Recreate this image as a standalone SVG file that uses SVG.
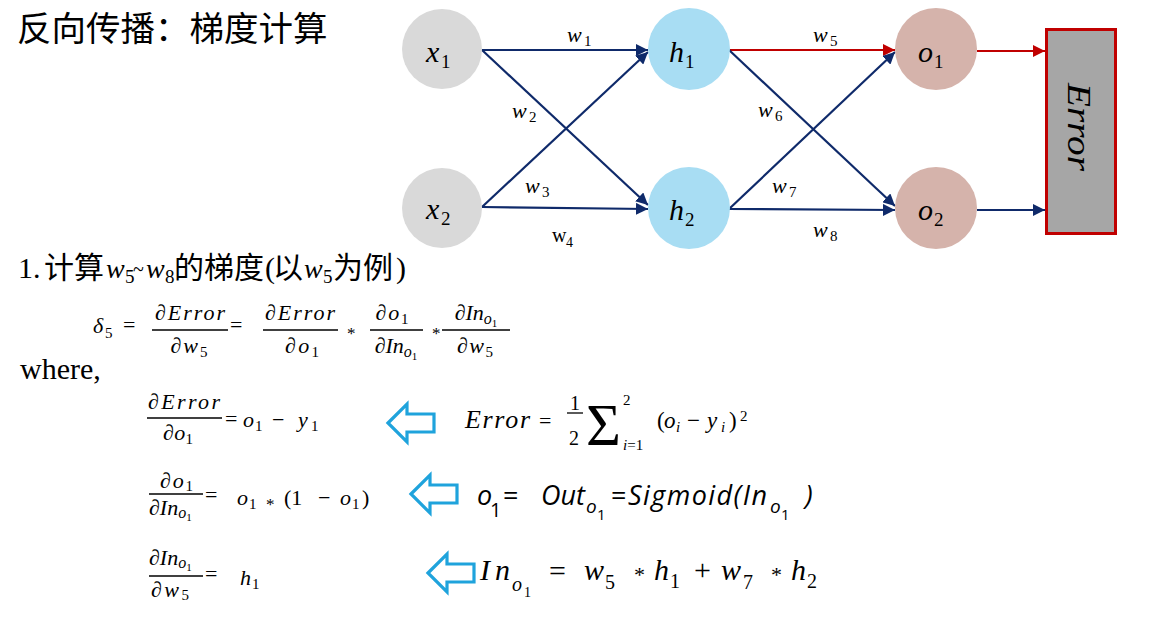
<svg xmlns="http://www.w3.org/2000/svg" width="1167" height="623" viewBox="0 0 1167 623">
<defs>
<style>
.m{font-family:"Liberation Serif",serif;font-style:italic;fill:#000}
.n{font-family:"Liberation Serif",serif;font-style:normal}
.cjk{font-family:"Noto Sans CJK SC",sans-serif;font-style:normal}
.tr{font-family:"Liberation Serif",serif;font-style:normal}
.cal{font-family:"Open Sans",Lato,sans-serif;font-style:italic}
.edge{fill:none;stroke:#0f2a6a;stroke-width:2.2}
.red{stroke:#c00000}
.bar{stroke:#000;stroke-width:1.3}
.hollow{fill:#fff;stroke:#1fa3dc;stroke-width:3.2}
</style>
<marker id="ah" markerUnits="userSpaceOnUse" markerWidth="12" markerHeight="12" refX="12" refY="6" orient="auto"><path d="M0,0 L12,6 L0,12 z" fill="#0f2a6a"/></marker>
<marker id="ahr" markerUnits="userSpaceOnUse" markerWidth="12" markerHeight="12" refX="12" refY="6" orient="auto"><path d="M0,0 L12,6 L0,12 z" fill="#c00000"/></marker>
<path id="hol" d="M0,0 L19,-19 L19,-9 L46,-9 L46,9 L19,9 L19,19 Z"/>
</defs>
<rect width="1167" height="623" fill="#fff"/>

<text class="cjk" x="17" y="41" font-size="34.5">反向传播：梯度计算</text>

<g id="connectors">
<path class="edge" d="M482,50 L648,50" marker-end="url(#ah)"/>
<path class="edge" d="M482,50 L648,205" marker-end="url(#ah)"/>
<path class="edge" d="M482,207 L648,52" marker-end="url(#ah)"/>
<path class="edge" d="M482,207 L648,209" marker-end="url(#ah)"/>
<path class="edge red" d="M729,50 L895,50" marker-end="url(#ahr)"/>
<path class="edge" d="M729,50 L895,206" marker-end="url(#ah)"/>
<path class="edge" d="M729,209 L895,52" marker-end="url(#ah)"/>
<path class="edge" d="M729,209 L895,210" marker-end="url(#ah)"/>
<path class="edge red" d="M977,51 L1045,51" marker-end="url(#ahr)"/>
<path class="edge" d="M977,210 L1045,210" marker-end="url(#ah)"/>
</g>

<g id="edge-labels" font-size="22">
<text class="m" x="567" y="42">w<tspan class="n" x="584" y="46" font-size="15">1</tspan></text>
<text class="m" x="512" y="118">w<tspan class="n" x="529" y="122" font-size="15">2</tspan></text>
<text class="m" x="525" y="193">w<tspan class="n" x="542" y="197" font-size="15">3</tspan></text>
<text class="tr" x="552" y="242" font-size="20">w<tspan x="566" y="247" font-size="14">4</tspan></text>
<text class="m" x="813" y="42">w<tspan class="n" x="830" y="46" font-size="15">5</tspan></text>
<text class="m" x="758" y="117">w<tspan class="n" x="775" y="121" font-size="15">6</tspan></text>
<text class="m" x="772" y="193">w<tspan class="n" x="789" y="197" font-size="15">7</tspan></text>
<text class="m" x="813" y="237">w<tspan class="n" x="830" y="241" font-size="15">8</tspan></text>
</g>

<g id="node-x1"><circle cx="442" cy="49" r="40" fill="#d9d9d9"/><text class="m" x="426" y="62" font-size="30">x<tspan class="n" x="441" y="68" font-size="19">1</tspan></text></g>
<g id="node-x2"><circle cx="442" cy="208" r="40" fill="#d9d9d9"/><text class="m" x="426" y="219" font-size="30">x<tspan class="n" x="441" y="225" font-size="19">2</tspan></text></g>
<g id="node-h1"><circle cx="689" cy="49" r="41" fill="#a8ddf3"/><text class="m" x="669" y="62" font-size="30">h<tspan class="n" x="685" y="68" font-size="19">1</tspan></text></g>
<g id="node-h2"><circle cx="689" cy="208" r="41" fill="#a8ddf3"/><text class="m" x="669" y="220" font-size="30">h<tspan class="n" x="685" y="226" font-size="19">2</tspan></text></g>
<g id="node-o1"><circle cx="936" cy="49" r="41" fill="#d5b3ab"/><text class="m" x="918" y="62" font-size="30">o<tspan class="n" x="934" y="68" font-size="19">1</tspan></text></g>
<g id="node-o2"><circle cx="936" cy="208" r="41" fill="#d5b3ab"/><text class="m" x="918" y="220" font-size="30">o<tspan class="n" x="934" y="226" font-size="19">2</tspan></text></g>
<g id="node-error"><rect x="1046.5" y="29.5" width="69" height="204" fill="#a6a6a6" stroke="#c00000" stroke-width="3"/><text class="m" font-size="33" text-anchor="middle" textLength="88" lengthAdjust="spacingAndGlyphs" transform="translate(1068,127) rotate(90)">Error</text></g>

<text y="278" font-size="30"><tspan class="tr" x="18">1.</tspan><tspan class="cjk" x="44">计算</tspan><tspan class="m" x="106" font-size="28">w</tspan><tspan class="n" x="125" y="283" font-size="19">5</tspan><tspan class="tr" x="133" y="276" font-size="20">~</tspan><tspan class="m" x="146" y="278" font-size="28">w</tspan><tspan class="n" x="165" y="283" font-size="19">8</tspan><tspan class="cjk" x="174" y="278">的梯度</tspan><tspan class="tr" x="265">(</tspan><tspan class="cjk" x="273">以</tspan><tspan class="m" x="304" font-size="28">w</tspan><tspan class="n" x="323" y="283" font-size="19">5</tspan><tspan class="cjk" x="333" y="278">为例</tspan><tspan class="tr" x="396">)</tspan></text>

<g id="delta5" font-size="22">
<text class="m" x="93" y="333">δ<tspan class="n" x="105" y="338" font-size="15">5</tspan></text>
<text class="n" x="123" y="332">=</text>
<text class="m" x="190" y="320" text-anchor="middle" textLength="70" lengthAdjust="spacing">∂Error</text>
<line class="bar" x1="152" y1="330" x2="228" y2="330"/>
<text class="m" x="189" y="353" text-anchor="middle" textLength="37" lengthAdjust="spacing">∂w<tspan class="n" dy="4" font-size="15">5</tspan></text>
<text class="n" x="230" y="332">=</text>
<text class="m" x="300" y="320" text-anchor="middle" textLength="70" lengthAdjust="spacing">∂Error</text>
<line class="bar" x1="263" y1="330" x2="338" y2="330"/>
<text class="m" x="302" y="353" text-anchor="middle" textLength="34" lengthAdjust="spacing">∂o<tspan class="n" dy="4" font-size="15">1</tspan></text>
<text class="n" x="347" y="339" font-size="17">*</text>
<text class="m" x="392" y="320" text-anchor="middle" textLength="33" lengthAdjust="spacing">∂o<tspan class="n" dy="4" font-size="15">1</tspan></text>
<line class="bar" x1="370" y1="330" x2="423" y2="330"/>
<text class="m" x="396" y="353" text-anchor="middle">∂In<tspan dy="4" font-size="16">o</tspan><tspan class="n" dy="3" font-size="11">1</tspan></text>
<text class="n" x="432" y="339" font-size="17">*</text>
<text class="m" x="476" y="320" text-anchor="middle">∂In<tspan dy="4" font-size="16">o</tspan><tspan class="n" dy="3" font-size="11">1</tspan></text>
<line class="bar" x1="442" y1="330" x2="510" y2="330"/>
<text class="m" x="475" y="353" text-anchor="middle" textLength="36" lengthAdjust="spacing">∂w<tspan class="n" dy="4" font-size="15">5</tspan></text>
</g>

<text class="tr" x="20" y="379" font-size="30">where,</text>

<g id="grad-a" font-size="22">
<text class="m" x="184" y="409" text-anchor="middle" textLength="72" lengthAdjust="spacing">∂Error</text>
<line class="bar" x1="147" y1="418" x2="222" y2="418"/>
<text class="m" x="163" y="440" textLength="30" lengthAdjust="spacing">∂o<tspan class="n" dy="4" font-size="15">1</tspan></text>
<text y="427"><tspan class="n" x="225" y="426">=</tspan><tspan class="m" x="243" y="427">o</tspan><tspan class="n" x="255" y="431" font-size="15">1</tspan><tspan class="n" x="272" y="427">−</tspan><tspan class="m" x="298" y="427">y</tspan><tspan class="n" x="311" y="431" font-size="15">1</tspan></text>
</g>

<g id="grad-b" font-size="22">
<text class="m" x="160" y="488" textLength="33" lengthAdjust="spacing">∂o<tspan class="n" dy="3" font-size="15">1</tspan></text>
<line class="bar" x1="149" y1="494" x2="203" y2="494"/>
<text class="m" x="149" y="515">∂In<tspan dy="3" font-size="16">o</tspan><tspan class="n" dy="3" font-size="11">1</tspan></text>
<text y="505"><tspan class="n" x="205" y="502">=</tspan><tspan class="m" x="237" y="505">o</tspan><tspan class="n" x="249" y="509" font-size="15">1</tspan><tspan class="n" x="266" y="510" font-size="17">*</tspan><tspan class="n" x="284" y="505">(1</tspan><tspan class="n" x="318" y="505">−</tspan><tspan class="m" x="340" y="505">o</tspan><tspan class="n" x="352" y="509" font-size="15">1</tspan><tspan class="n" x="362" y="505">)</tspan></text>
</g>

<g id="grad-c" font-size="22">
<text class="m" x="149" y="565">∂In<tspan dy="3" font-size="16">o</tspan><tspan class="n" dy="3" font-size="11">1</tspan></text>
<line class="bar" x1="149" y1="576" x2="203" y2="576"/>
<text class="m" x="151" y="597" textLength="38" lengthAdjust="spacing">∂w<tspan class="n" dy="3" font-size="15">5</tspan></text>
<text y="585"><tspan class="n" x="205" y="581">=</tspan><tspan class="m" x="240" y="585">h</tspan><tspan class="n" x="252" y="589" font-size="15">1</tspan></text>
</g>

<g id="hollow-arrows">
<use href="#hol" class="hollow" transform="translate(388,423)"/>
<use href="#hol" class="hollow" transform="translate(411,494)"/>
<use href="#hol" class="hollow" transform="translate(428,573)"/>
</g>

<g id="eq-error" font-size="26">
<text class="m" x="465" y="428" textLength="65" lengthAdjust="spacing">Error</text>
<text class="n" x="539" y="428" font-size="22">=</text>
<text class="n" x="570" y="410" font-size="20">1</text>
<line class="bar" x1="567" y1="413" x2="583" y2="413"/>
<text class="n" x="569" y="445" font-size="20">2</text>
<text class="tr" x="586" y="445" font-size="60">Σ</text>
<text class="n" x="623" y="405" font-size="15">2</text>
<text x="623" y="450" font-size="15"><tspan class="m">i</tspan><tspan class="n">=1</tspan></text>
<text y="428" font-size="23"><tspan class="n" x="657">(</tspan><tspan class="m" x="664">o</tspan><tspan class="m" x="676" y="432" font-size="15">i</tspan><tspan class="n" x="687" y="428">−</tspan><tspan class="m" x="707">y</tspan><tspan class="m" x="721" y="432" font-size="15">i</tspan><tspan class="n" x="729" y="428">)</tspan><tspan class="n" x="740" y="421" font-size="15">2</tspan></text>
</g>

<g id="eq-sigmoid" font-size="27">
<text class="cal" y="505"><tspan x="477">o</tspan><tspan font-style="normal" x="490" y="517" font-size="20">1</tspan><tspan font-style="normal" x="503" y="505">=</tspan><tspan x="541" y="505">Out</tspan><tspan x="586" y="513" font-size="19">o</tspan><tspan font-style="normal" x="597" y="520" font-size="15">1</tspan><tspan font-style="normal" x="611" y="505">=</tspan><tspan x="628" y="505" textLength="139" lengthAdjust="spacing">Sigmoid(In</tspan><tspan x="770" y="513" font-size="19">o</tspan><tspan font-style="normal" x="781" y="520" font-size="15">1</tspan><tspan x="805" y="505">)</tspan></text>
</g>

<g id="eq-in" font-size="30">
<text y="580"><tspan class="m" x="480" textLength="30" lengthAdjust="spacing">In</tspan><tspan class="m" x="512" y="591" font-size="20">o</tspan><tspan class="n" x="524" y="597" font-size="14">1</tspan><tspan class="n" x="549" y="581">=</tspan><tspan class="m" x="584" y="580">w</tspan><tspan class="n" x="605" y="589" font-size="20">5</tspan><tspan class="n" x="634" y="582" font-size="22">*</tspan><tspan class="m" x="654" y="580">h</tspan><tspan class="n" x="670" y="588" font-size="20">1</tspan><tspan class="n" x="694" y="580">+</tspan><tspan class="m" x="721" y="580">w</tspan><tspan class="n" x="743" y="589" font-size="20">7</tspan><tspan class="n" x="771" y="582" font-size="22">*</tspan><tspan class="m" x="791" y="580">h</tspan><tspan class="n" x="807" y="588" font-size="20">2</tspan></text>
</g>
</svg>
